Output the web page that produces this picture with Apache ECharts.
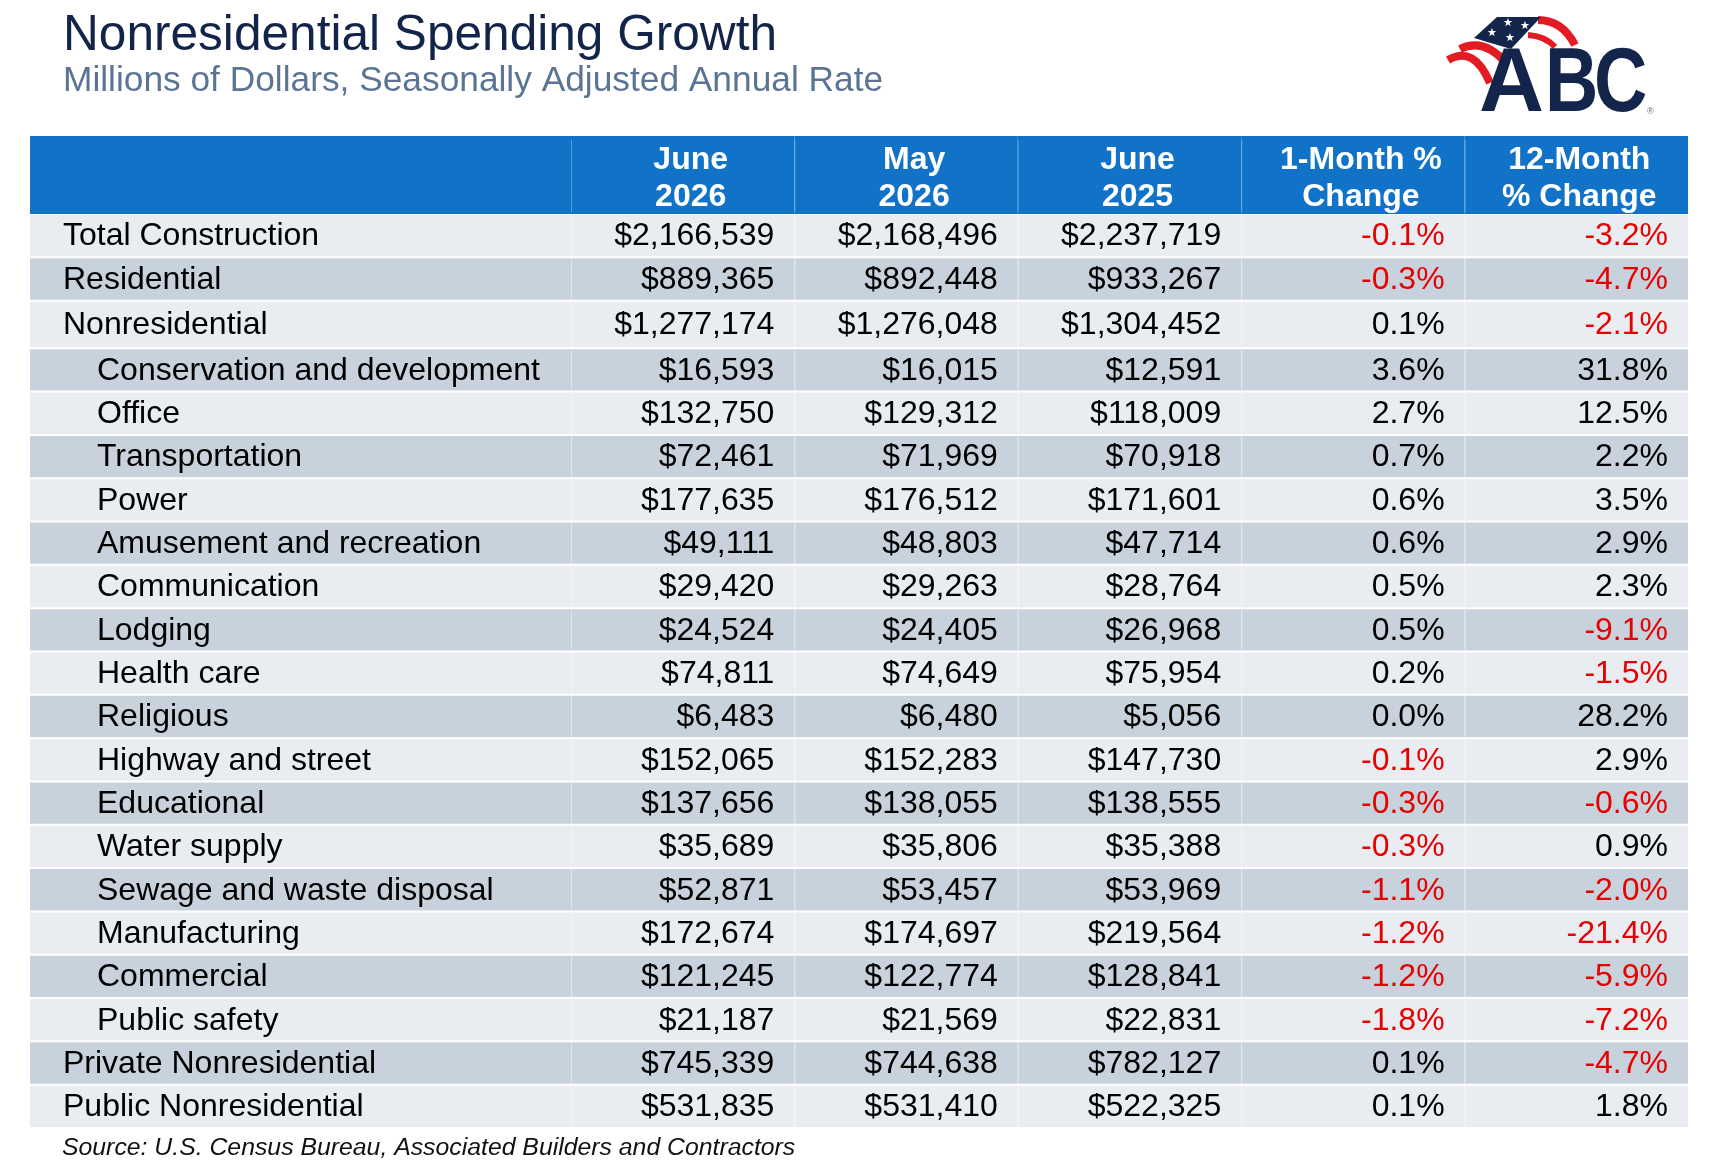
<!DOCTYPE html>
<html>
<head>
<meta charset="utf-8">
<script src="https://cdn.jsdelivr.net/npm/echarts@6/dist/echarts.min.js"></script>
<style>
  html, body { margin: 0; padding: 0; background: #fff; }
  #main { width: 1716px; height: 1168px; }
</style>
</head>
<body>
<div id="main"></div>
<script>
// table data
const rowNames = [
  'Total Construction', 'Residential', 'Nonresidential',
  'Conservation and development', 'Office', 'Transportation', 'Power',
  'Amusement and recreation', 'Communication', 'Lodging', 'Health care',
  'Religious', 'Highway and street', 'Educational', 'Water supply',
  'Sewage and waste disposal', 'Manufacturing', 'Commercial', 'Public safety',
  'Private Nonresidential', 'Public Nonresidential'
];
// 0 = top level, 1 = indented sub-category
const rowLevel = [0, 0, 0, 1, 1, 1, 1, 1, 1, 1, 1, 1, 1, 1, 1, 1, 1, 1, 1, 0, 0];

const columnNames = ['June\n2026', 'May\n2026', 'June\n2025', '1-Month %\nChange', '12-Month\n% Change'];

const june2026 = [2166539, 889365, 1277174, 16593, 132750, 72461, 177635, 49111, 29420, 24524,
  74811, 6483, 152065, 137656, 35689, 52871, 172674, 121245, 21187, 745339, 531835];
const may2026 = [2168496, 892448, 1276048, 16015, 129312, 71969, 176512, 48803, 29263, 24405,
  74649, 6480, 152283, 138055, 35806, 53457, 174697, 122774, 21569, 744638, 531410];
const june2025 = [2237719, 933267, 1304452, 12591, 118009, 70918, 171601, 47714, 28764, 26968,
  75954, 5056, 147730, 138555, 35388, 53969, 219564, 128841, 22831, 782127, 522325];
const change1m = [-0.1, -0.3, 0.1, 3.6, 2.7, 0.7, 0.6, 0.6, 0.5, 0.5, 0.2, 0.0, -0.1, -0.3, -0.3,
  -1.1, -1.2, -1.2, -1.8, 0.1, 0.1];
const change12m = [-3.2, -4.7, -2.1, 31.8, 12.5, 2.2, 3.5, 2.9, 2.3, -9.1, -1.5, 28.2, 2.9, -0.6,
  0.9, -2.0, -21.4, -5.9, -7.2, -4.7, 1.8];

const FONT = '"Liberation Sans", Arial, sans-serif';
const HEADER_BLUE = '#1173c8';
const ROW_LIGHT = '#e9ecf1';
const ROW_DARK = '#c8d2dd';
const NEG_RED = '#e60000';
const NAVY = '#14254c';
const FLAG_RED = '#e31b23';

// layout: the Nonresidential row is drawn a bit taller than the rest
const rowSpan = rowNames.map((name) => name === 'Nonresidential' ? 1.1 : 1);
const rowTop = [];
rowSpan.reduce((acc, h, i) => { rowTop[i] = acc; return acc + h; }, 0);
const rowTotal = rowSpan.reduce((a, b) => a + b, 0);

const valueCols = [june2026, may2026, june2025];
const pctCols = [change1m, change12m];

function cellText(col, row) {
  if (col < 3) return '$' + valueCols[col][row].toLocaleString('en-US');
  return pctCols[col - 3][row].toFixed(1) + '%';
}
function cellNeg(col, row) {
  return col >= 3 && pctCols[col - 3][row] < 0;
}

const bodyData = [];
rowNames.forEach((_, r) => {
  for (let c = 0; c < columnNames.length; c++) bodyData.push([c, r]);
});
const labelData = rowNames.map((_, r) => [0, r]);
const headerData = columnNames.map((_, c) => [c, 0]);

// body cell: x is a category column, y runs over the row band on a value axis
function rowRect(api) {
  const c = api.value(0), r = api.value(1);
  const p0 = api.coord([c, rowTop[r]]);
  const p1 = api.coord([c, rowTop[r] + rowSpan[r]]);
  const w = api.size([1, 0])[0];
  return { x: p0[0] - w / 2, y: p0[1], w, h: p1[1] - p0[1] };
}
function cellRect(api) {
  const p = api.coord([api.value(0), api.value(1)]);
  const s = api.size([1, 1]);
  return { x: p[0] - s[0] / 2, y: p[1] - s[1] / 2, w: s[0], h: s[1] };
}

function renderBody(params, api) {
  const c = api.value(0), r = api.value(1);
  const b = rowRect(api);
  return {
    type: 'group',
    children: [
      { type: 'rect', shape: { x: b.x, y: b.y + 1, width: b.w, height: b.h - 2 },
        style: { fill: r % 2 ? ROW_DARK : ROW_LIGHT } },
      { type: 'rect', shape: { x: b.x, y: b.y + 1, width: 1, height: b.h - 2 },
        style: { fill: 'rgba(255,255,255,0.45)' } },
      { type: 'text', style: {
          text: cellText(c, r), x: b.x + b.w - 20, y: b.y + b.h / 2 + 1,
          align: 'right', verticalAlign: 'middle',
          fontFamily: FONT, fontSize: 32, fill: cellNeg(c, r) ? NEG_RED : '#000' } }
    ]
  };
}

function renderLabel(params, api) {
  const r = api.value(1);
  const b = rowRect(api);
  return {
    type: 'group',
    children: [
      { type: 'rect', shape: { x: b.x, y: b.y + 1, width: b.w, height: b.h - 2 },
        style: { fill: r % 2 ? ROW_DARK : ROW_LIGHT } },
      { type: 'text', style: {
          text: rowNames[r], x: b.x + (rowLevel[r] ? 67 : 33), y: b.y + b.h / 2 + 1,
          align: 'left', verticalAlign: 'middle',
          fontFamily: FONT, fontSize: 32, fill: '#000' } }
    ]
  };
}

function renderHeader(params, api) {
  const c = api.value(0);
  const b = cellRect(api);
  // header captions sit a little right of the column centre in the original
  const nudge = c < 4 ? 8 : 3;
  return {
    type: 'group',
    children: [
      { type: 'rect', shape: { x: b.x, y: b.y, width: b.w, height: b.h },
        style: { fill: HEADER_BLUE } },
      { type: 'rect', shape: { x: b.x, y: b.y + 4, width: 1, height: b.h - 6 },
        style: { fill: 'rgba(255,255,255,0.3)' } },
      { type: 'text', style: {
          text: columnNames[c], x: b.x + b.w / 2 + nudge, y: b.y + b.h / 2 + 4,
          align: 'center', verticalAlign: 'middle', lineHeight: 37,
          fontFamily: FONT, fontSize: 32, fontWeight: 'bold', fill: '#fff' } }
    ]
  };
}

function renderHeaderBlank(params, api) {
  const b = cellRect(api);
  return { type: 'rect', shape: { x: b.x, y: b.y, width: b.w, height: b.h },
    style: { fill: HEADER_BLUE } };
}

const TABLE_L = 30, SPLIT = 571, TABLE_R = 1688;
const HEAD_T = 136, HEAD_H = 78, BODY_T = 214, BODY_H = 914;

const hidden = { show: false };
const catX = (data, gridIndex) => Object.assign({ type: 'category', data, gridIndex }, hidden);
const catY = (data, gridIndex) => Object.assign({ type: 'category', data, gridIndex, inverse: true }, hidden);
const rowY = (gridIndex) => Object.assign({ type: 'value', gridIndex, inverse: true, min: 0, max: rowTotal }, hidden);

function star(x, y) {
  return { type: 'text', style: { text: '★', x, y, fontSize: 11, fill: '#fff', align: 'center', verticalAlign: 'middle' } };
}
function letter(ch, x, sx) {
  return { type: 'text', x, y: 86, scaleX: sx,
    style: { text: ch, x: 0, y: 0, fontFamily: FONT, fontSize: 90, fontWeight: 900, fill: NAVY, verticalAlign: 'middle' } };
}
function stripe(x1, y1, cpx1, cpy1, x2, y2, w) {
  return { type: 'bezierCurve', shape: { x1, y1, cpx1, cpy1, x2, y2 },
    style: { stroke: FLAG_RED, lineWidth: w, fill: null } };
}

const chart = echarts.init(document.getElementById('main'));
chart.setOption({
  backgroundColor: '#fff',
  animation: false,
  title: {
    text: 'Nonresidential Spending Growth',
    subtext: 'Millions of Dollars, Seasonally Adjusted Annual Rate',
    left: 58, top: 3, itemGap: -3,
    textStyle: { fontFamily: FONT, fontSize: 49.6, fontWeight: 'normal', color: '#13244a', lineHeight: 56 },
    subtextStyle: { fontFamily: FONT, fontSize: 35.3, color: '#5b7494', lineHeight: 40 }
  },
  grid: [
    { left: TABLE_L, top: HEAD_T, width: SPLIT - TABLE_L, height: HEAD_H },
    { left: SPLIT, top: HEAD_T, width: TABLE_R - SPLIT, height: HEAD_H },
    { left: TABLE_L, top: BODY_T, width: SPLIT - TABLE_L, height: BODY_H },
    { left: SPLIT, top: BODY_T, width: TABLE_R - SPLIT, height: BODY_H }
  ],
  xAxis: [
    catX([''], 0),
    catX(columnNames, 1),
    catX([''], 2),
    catX(columnNames, 3)
  ],
  yAxis: [
    catY([''], 0),
    catY([''], 1),
    rowY(2),
    rowY(3)
  ],
  series: [
    { type: 'custom', xAxisIndex: 0, yAxisIndex: 0, data: [[0, 0]], renderItem: renderHeaderBlank, silent: true },
    { type: 'custom', xAxisIndex: 1, yAxisIndex: 1, data: headerData, renderItem: renderHeader, silent: true },
    { type: 'custom', xAxisIndex: 2, yAxisIndex: 2, data: labelData, renderItem: renderLabel, silent: true },
    { type: 'custom', xAxisIndex: 3, yAxisIndex: 3, data: bodyData, renderItem: renderBody, silent: true }
  ],
  graphic: [
    // ABC logo, drawn roughly
    stripe(1538, 20, 1562, 20, 1575, 45, 8),
    stripe(1528, 35, 1545, 36, 1555, 47, 6),
    stripe(1460, 49, 1484, 37, 1507, 64, 8),
    stripe(1448, 60, 1474, 45, 1490, 83, 8),
    { type: 'polygon', shape: { points: [[1474, 38], [1497, 17], [1541, 17], [1511, 49]] },
      style: { fill: NAVY } },
    star(1508, 23), star(1525, 26), star(1492, 33), star(1510, 38),
    letter('A', 1479, 1),
    letter('B', 1545, 0.82),
    letter('C', 1594, 0.82),
    { type: 'text', style: { text: '®', x: 1647, y: 112, fontFamily: FONT, fontSize: 9, fill: '#667', verticalAlign: 'middle' } },
    // source note
    { type: 'text', style: { text: 'Source: U.S. Census Bureau, Associated Builders and Contractors',
        x: 62, y: 1148, fontFamily: FONT, fontSize: 24.8, fontStyle: 'italic', fill: '#111', verticalAlign: 'middle' } }
  ]
});
</script>
</body>
</html>
